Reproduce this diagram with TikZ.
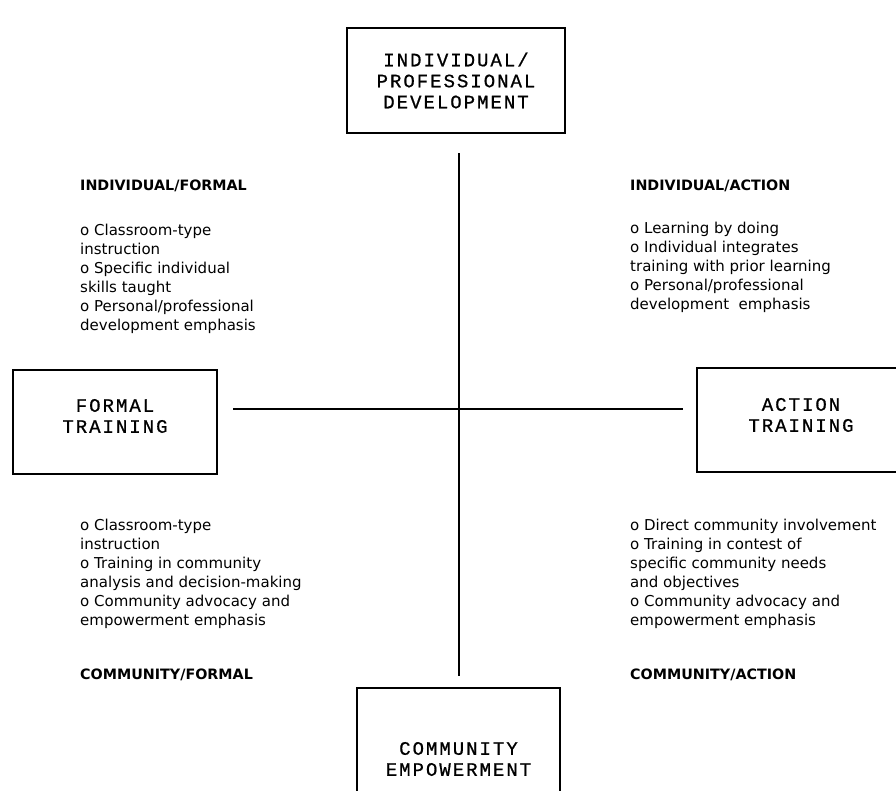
\documentclass[tikz,border=0pt]{standalone}
\usepackage{fontspec}
\setmainfont{DejaVu Sans}
\newfontfamily\boxfont{Liberation Mono}[LetterSpace=10.5,FakeBold=0.8]
\usepackage{tikz}

\begin{document}
\begin{tikzpicture}[x=1pt,y=-1pt,
	conceptbox/.style={rectangle,draw,line width=1.6pt,inner sep=0pt},
	boxtext/.style={align=center,inner sep=0pt,font=\boxfont\fontsize{19}{21}\selectfont},
	quadhead/.style={anchor=north west,inner sep=0pt,font=\bfseries\fontsize{14.3}{19}\selectfont},
	quadtext/.style={anchor=north west,inner sep=0pt,align=left,font=\fontsize{15}{19}\selectfont},
	axis/.style={line width=1.3pt}
	]
	\useasboundingbox (0,0) rectangle (896,790);
	% the four poles
	\node[conceptbox,minimum width=218pt,minimum height=105pt,
		label={[boxtext]center:{INDIVIDUAL/\\PROFESSIONAL\\DEVELOPMENT}}] (indiv) at (456,80.5) {};
	\node[conceptbox,minimum width=204pt,minimum height=104pt,
		label={[boxtext,yshift=6pt]center:{FORMAL\\TRAINING}}] (formal) at (115,422) {};
	\node[conceptbox,minimum width=208pt,minimum height=104pt,
		label={[boxtext,yshift=5pt]center:{ACTION\\TRAINING}}] (action) at (801,420) {};
	\node[conceptbox,minimum width=203pt,minimum height=150pt,
		label={[boxtext,yshift=4pt]center:{COMMUNITY\\EMPOWERMENT}}] (commun) at (458.5,763) {};
	% axes
	\coordinate (axisN) at (459,153);
	\coordinate (axisS) at (459,676);
	\coordinate (axisW) at (233,409);
	\coordinate (axisE) at (683,409);
	\draw[axis] (axisN) -- (axisS);
	\draw[axis] (axisW) -- (axisE);
	% quadrants
	\node[quadhead] (indformhead) at (80,179.5) {INDIVIDUAL/FORMAL};
	\node[quadtext] (indform) at (80,224) {o Classroom-type\\instruction\\o Specific individual\\skills taught\\o Personal/professional\\development emphasis};
	\node[quadhead] (indacthead) at (630,179.5) {INDIVIDUAL/ACTION};
	\node[quadtext] (indact) at (630,222) {o Learning by doing\\o Individual integrates\\training with prior learning\\o Personal/professional\\development \ emphasis};
	\node[quadtext] (comform) at (80,519) {o Classroom-type\\instruction\\o Training in community\\analysis and decision-making\\o Community advocacy and\\empowerment emphasis};
	\node[quadhead] (comformhead) at (80,669) {COMMUNITY/FORMAL};
	\node[quadtext] (comact) at (630,519) {o Direct community involvement\\o Training in contest of\\specific community needs\\and objectives\\o Community advocacy and\\empowerment emphasis};
	\node[quadhead] (comacthead) at (630,669) {COMMUNITY/ACTION};
\end{tikzpicture}
\end{document}
